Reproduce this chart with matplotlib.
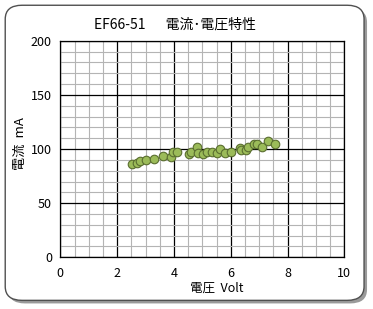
import matplotlib
matplotlib.use('Agg')
import matplotlib.pyplot as plt
from matplotlib.patches import FancyBboxPatch
from matplotlib.ticker import MultipleLocator

plt.rcParams['font.family'] = ['Noto Sans CJK JP', 'DejaVu Sans']

# 測定データ (電圧 V, 電流 mA)
volt = [2.54, 2.69, 2.80, 3.02, 3.31, 3.63, 3.90, 3.98, 4.12, 4.54, 4.61,
        4.82, 4.84, 5.04, 5.15, 5.34, 5.53, 5.63, 5.81, 6.02, 6.34, 6.35,
        6.53, 6.62, 6.82, 6.92, 7.10, 7.31, 7.55]
current = [86.5, 87.4, 89.2, 89.8, 91.1, 93.2, 92.9, 97.5, 97.5, 95.1, 97.5,
           102.2, 96.6, 95.1, 97.5, 97.5, 96.6, 99.7, 96.6, 97.5, 101.2, 99.4,
           99.4, 102.2, 104.9, 104.9, 102.2, 107.1, 104.9]

title = 'EF66-51　  電流･電圧特性'
xlabel = '電圧  Volt'
ylabel = '電流  mA'

fig = plt.figure(figsize=(3.73, 3.09), dpi=100)

# 外枠 (影付き角丸)
shadow = FancyBboxPatch((0.022, 0.018), 0.962, 0.955,
                        boxstyle='round,pad=0,rounding_size=0.045',
                        transform=fig.transFigure, facecolor='#9a9a9a',
                        edgecolor='none', zorder=0)
frame = FancyBboxPatch((0.014, 0.028), 0.962, 0.955,
                       boxstyle='round,pad=0,rounding_size=0.045',
                       transform=fig.transFigure, facecolor='white',
                       edgecolor='#505050', linewidth=1.0, zorder=1)
fig.patches.extend([shadow, frame])

ax = fig.add_axes([0.1617, 0.1673, 0.7614, 0.7007])
ax.set_zorder(2)
ax.set_xlim(0, 10)
ax.set_ylim(0, 200)
ax.xaxis.set_major_locator(MultipleLocator(2))
ax.xaxis.set_minor_locator(MultipleLocator(0.5))
ax.yaxis.set_major_locator(MultipleLocator(50))
ax.yaxis.set_minor_locator(MultipleLocator(10))
ax.grid(which='minor', color='#b4b4b4', linewidth=0.8)
ax.grid(which='major', color='black', linewidth=0.9)
ax.set_axisbelow(True)
ax.tick_params(which='both', length=0, labelsize=9, colors='black')
ax.tick_params(axis='x', pad=7)
ax.tick_params(axis='y', pad=6)
for s in ax.spines.values():
    s.set_color('black')
    s.set_linewidth(0.9)

ax.scatter(volt, current, s=38, color='#9bbb59', edgecolors='#5a6e30',
           linewidths=0.8, zorder=3)

fig.text(0.469, 0.919, title, ha='center', va='center', fontsize=10)
fig.text(0.582, 0.066, xlabel, ha='center', va='center', fontsize=9)
fig.text(0.054, 0.537, ylabel, ha='center', va='center', fontsize=9.5,
         rotation=90)

fig.savefig('out.png', dpi=100)
